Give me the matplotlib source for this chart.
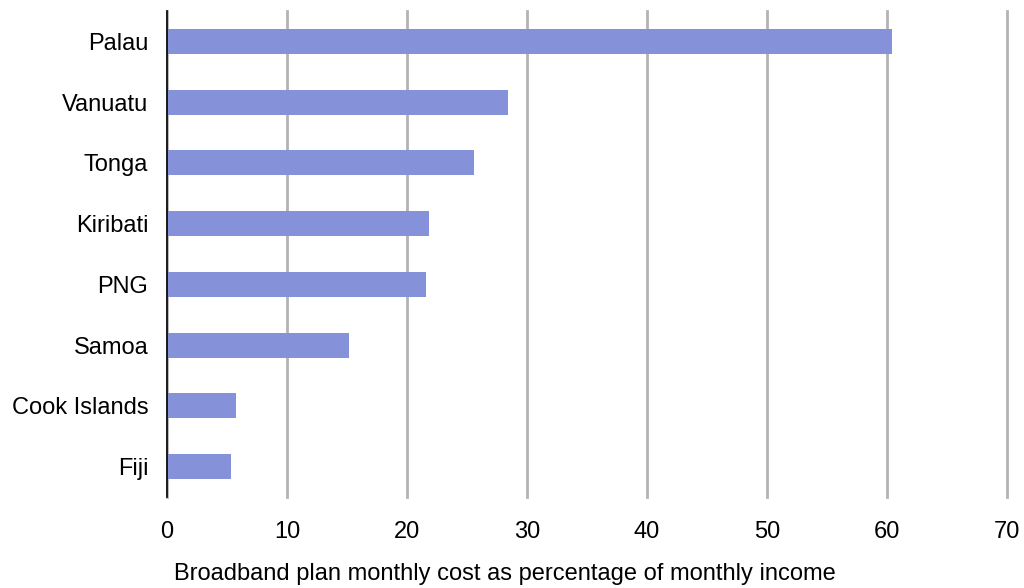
import matplotlib
matplotlib.use("Agg")
import matplotlib.pyplot as plt

countries = ["Palau", "Vanuatu", "Tonga", "Kiribati", "PNG", "Samoa", "Cook Islands", "Fiji"]
cost_pct = [60.4, 28.4, 25.6, 21.8, 21.6, 15.2, 5.75, 5.3]
x_ticks = [0, 10, 20, 30, 40, 50, 60, 70]

plt.rcParams["font.family"] = ["Liberation Sans", "DejaVu Sans"]

fig = plt.figure(figsize=(10.24, 5.88), dpi=100)
ax = fig.add_axes([167 / 1024, 1 - 497 / 588, 840 / 1024, 486 / 588])

y_pos = list(range(len(countries)))
ax.barh(y_pos, cost_pct, height=0.41, color="#8591d8", zorder=3)

ax.set_xlim(0, 70)
ax.set_ylim(len(countries) - 0.5, -0.5)
ax.set_xticks(x_ticks)
ax.set_xticklabels([str(t) for t in x_ticks], fontsize=17)
ax.set_yticks(y_pos)
ax.set_yticklabels(countries, fontsize=17)

ax.grid(axis="x", color="#b3b3b3", linewidth=2, zorder=0)
for gl in ax.get_xgridlines():
    gl.set_clip_on(False)
ax.tick_params(axis="both", length=0)
ax.tick_params(axis="x", pad=17)
ax.tick_params(axis="y", pad=13.5)

for side in ["top", "right", "bottom"]:
    ax.spines[side].set_visible(False)
ax.spines["left"].set_color("black")
ax.spines["left"].set_linewidth(1.2)
ax.spines["left"].set_zorder(4)

# x label sits centred on the figure rather than the axes
fig.text(504.5 / 1024, 1 - 574 / 588, "Broadband plan monthly cost as percentage of monthly income",
         fontsize=17, ha="center", va="center")

fig.savefig("out.png", dpi=100)
